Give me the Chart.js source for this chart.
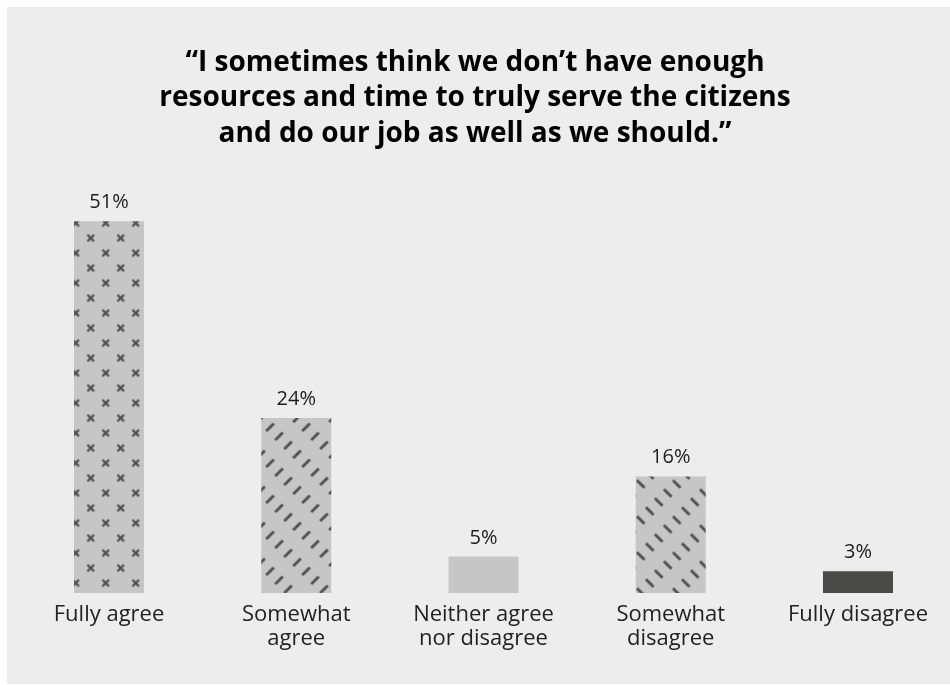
<!DOCTYPE html>
<html><head><meta charset="utf-8">
<script src="https://cdn.jsdelivr.net/npm/chart.js@4.4.0/dist/chart.umd.min.js"></script>
<style>
html,body{margin:0;padding:0;background:#fff;overflow:hidden;width:950px;height:685px;}
#panel{position:absolute;left:7px;top:7px;width:943px;height:677px;background:#ededed;}
#wrap{position:absolute;left:0;top:0;width:960px;height:685px;}
</style></head><body>
<div id="panel"></div>
<div id="wrap"><canvas id="c" width="960" height="685" style="width:960px;height:685px"></canvas></div>
<script>
const categories = [["Fully agree"], ["Somewhat", "agree"], ["Neither agree", "nor disagree"], ["Somewhat", "disagree"], ["Fully disagree"]];
const values = [51, 24, 5, 16, 3];
const valueLabels = ["51%", "24%", "5%", "16%", "3%"];
const titleLines = ["\u201cI sometimes think we don\u2019t have enough", "resources and time to truly serve the citizens", "and do our job as well as we should.\u201d"];

const FONT = "'Open Sans', sans-serif";
const BASE = '#c6c6c6';
const INK = '#4f4f4f';

const canvas = document.getElementById('c');
const ctx = canvas.getContext('2d');

function tile(size, draw) {
  const t = document.createElement('canvas');
  t.width = size; t.height = size;
  const g = t.getContext('2d');
  g.fillStyle = BASE; g.fillRect(0, 0, size, size);
  g.strokeStyle = INK; g.lineCap = 'butt';
  draw(g);
  return t;
}
function makePattern(t, dx, dy) {
  const p = ctx.createPattern(t, 'repeat');
  if (p.setTransform) p.setTransform(new DOMMatrix().translate(dx, dy));
  return p;
}
const crossTile = tile(30, g => {
  g.lineWidth = 2.3;
  [[7.5, 7.5], [22.5, 22.5]].forEach(([x, y]) => {
    const h = 3.3;
    g.beginPath(); g.moveTo(x - h, y - h); g.lineTo(x + h, y + h);
    g.moveTo(x - h, y + h); g.lineTo(x + h, y - h); g.stroke();
  });
});
const slashTile = tile(36, g => {
  g.lineWidth = 2.8;
  for (let k = 0; k < 4; k++) {
    const x = 4.5 + 9 * k, y = 4.5 + 9 * k, h = 3.8;
    g.beginPath(); g.moveTo(x - h, y + h); g.lineTo(x + h, y - h); g.stroke();
  }
});
const backTile = tile(36, g => {
  g.lineWidth = 2.8;
  for (let k = 0; k < 4; k++) {
    const x = 4.5 + 9 * k, y = 31.5 - 9 * k, h = 3.8;
    g.beginPath(); g.moveTo(x - h, y - h); g.lineTo(x + h, y + h); g.stroke();
  }
});

const fills = [
  makePattern(crossTile, 68.2, 215.5),
  makePattern(slashTile, 265.5, 422.8),
  BASE,
  makePattern(backTile, 636.2, 452.5),
  '#4a4a49'
];

const valueLabelPlugin = {
  id: 'valueLabels',
  afterDatasetsDraw(chart) {
    const meta = chart.getDatasetMeta(0);
    const c = chart.ctx;
    c.save();
    c.font = "20px " + FONT;
    c.fillStyle = '#1c1c1c';
    c.textAlign = 'center';
    c.textBaseline = 'alphabetic';
    meta.data.forEach((bar, i) => {
      c.fillText(valueLabels[i], bar.x, bar.y - 13);
    });
    c.restore();
  }
};
const titlePlugin = {
  id: 'quoteTitle',
  afterDraw(chart) {
    const c = chart.ctx;
    c.save();
    c.font = "bold 28px " + FONT;
    c.fillStyle = '#000';
    c.textAlign = 'center';
    c.textBaseline = 'middle';
    titleLines.forEach((t, i) => c.fillText(t, 475, 63 + i * 35.5));
    c.restore();
  }
};

new Chart(canvas, {
  type: 'bar',
  data: {
    labels: categories,
    datasets: [{
      data: values,
      backgroundColor: fills,
      borderWidth: 0,
      barPercentage: 0.374,
      categoryPercentage: 1
    }]
  },
  options: {
    responsive: false,
    animation: false,
    layout: { padding: { top: 155.6, bottom: 24, left: 15.4, right: 8.4 } },
    plugins: { legend: { display: false }, tooltip: { enabled: false }, title: { display: false } },
    scales: {
      y: { display: false, min: 0, max: 60 },
      x: {
        grid: { display: false, drawTicks: false },
        border: { display: false },
        ticks: {
          color: '#222',
          padding: 10,
          maxRotation: 0,
          autoSkip: false,
          font: { family: FONT, size: 22, lineHeight: 1.09 }
        }
      }
    }
  },
  plugins: [valueLabelPlugin, titlePlugin]
});
</script>
</body></html>
